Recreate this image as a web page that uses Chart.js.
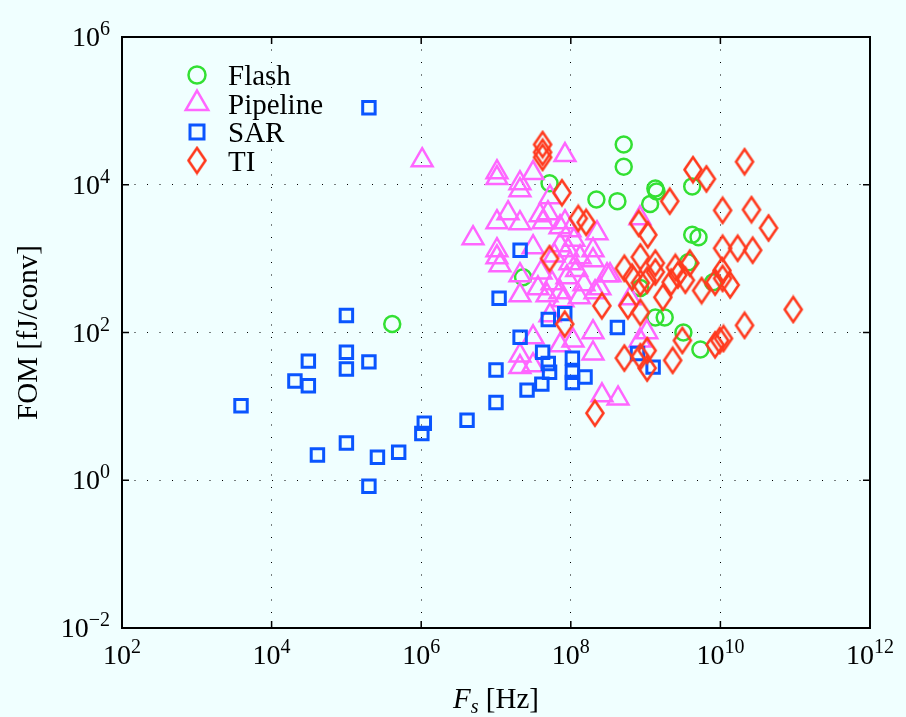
<!DOCTYPE html>
<html lang="en">
<head>
<meta charset="UTF-8" />
<title>ADC FOM vs sampling rate</title>
<script src="https://cdn.jsdelivr.net/npm/chart.js"></script>
<style>
  html, body { margin: 0; padding: 0; background: #f0ffff; }
  canvas { display: block; }
</style>
</head>
<body>
<canvas id="fomChart" width="906" height="717"></canvas>
<script>
// sampling rate Fs [Hz] and figure of merit [fJ/conv], per architecture
const flashFs = [4.1e5, 2.3e7, 5.2e7, 2.2e8, 4.2e8, 5.1e8, 5.1e8, 8.5e8, 1.15e9, 1.35e9,
  1.4e9, 1.35e9, 1.8e9, 3.2e9, 3.7e9, 4.2e9, 4.2e9, 5.1e9, 5.4e9, 8e9];
const flashFom = [130, 560, 1.05e4, 6.3e3, 6.0e3, 3.5e4, 1.75e4, 400, 5.5e3, 8.9e3,
  8.1e3, 160, 160, 100, 890, 9.5e3, 2.1e3, 1.95e3, 59, 480];

const pipelineFs = [1.03e7, 1.03e7, 2.09e7, 2.09e7, 3.13e7, 8.36e7, 5.27e7, 1.03e7, 1.45e7, 2.09e7,
  4.93e6, 3.87e7, 4.95e7, 4.25e7, 7.18e7, 9.75e7, 8.36e7, 2.24e8, 1.03e7, 3.13e7,
  7.18e7, 9.18e7, 1.98e8, 1.03e7, 1.13e7, 2.09e7, 3.64e7, 2.09e7, 4.81e7, 7.18e7,
  7.87e7, 9.75e7, 8.89e7, 5.61e7, 3.05e8, 2.11e8, 1.98e8, 1.98e8, 5.27e7, 3.13e7,
  2.09e7, 2.09e7, 7.18e7, 1.07e8, 3.13e7, 1.33e8, 1.98e8, 2.61e8, 4.28e8, 8.41e8,
  1.04e9, 8.41e8, 1.03e6, 3.34e8, 2.45e8, 6.18e8, 1.2e8, 1.5e8, 1.1e8, 6e7,
  1.3e8, 4e7];
const pipelineFom = [1.48e4, 1.23e4, 1.05e4, 8.45e3, 1.44e4, 2.52e4, 6.79e3, 3.11e3, 4.12e3, 3.02e3,
  1.89e3, 3.87e3, 4.12e3, 3.11e3, 2.66e3, 2.43e3, 3.11e3, 2.21e3, 1.30e3, 1.43e3,
  1.52e3, 1.30e3, 1.30e3, 1.04e3, 815, 596, 397, 319, 319, 351,
  273, 867, 560, 465, 596, 351, 101, 52, 171, 86,
  49, 34, 67, 78, 36, 1.04e3, 951, 14.1, 12.8, 78,
  101, 3.52e3, 2.15e4, 596, 397, 290, 700, 450, 1.8e3, 1.1e3,
  300, 650];

const sarFs = [2.0e5, 3.9e3, 1.0e5, 3.1e4, 2.05e4, 3.1e4, 1.0e5, 1.0e5, 2.0e5, 4.1e4,
  1.0e5, 2.6e5, 5.0e5, 1.1e6, 1.02e6, 2.0e5, 4.1e6, 1.0e7, 1.0e7, 2.6e7,
  4.1e7, 4.2e7, 5.0e7, 5.2e7, 2.1e7, 5.0e7, 8.3e7, 1.05e8, 1.05e8, 1.05e8,
  1.55e8, 4.2e8, 7.8e8, 1.26e9, 1.1e7, 2.1e7];
const sarFom = [1.1e5, 10.2, 170, 41, 22, 19, 54, 32, 40, 2.2,
  3.2, 2.05, 2.4, 5.9, 4.3, 0.83, 6.5, 11.3, 31, 16.6,
  20, 54, 38, 29, 86, 150, 180, 45, 29, 21,
  25, 117, 52, 34, 290, 1.3e3];

const tiFs = [4.2e7, 4.2e7, 4.2e7, 7.6e7, 1.26e8, 1.6e8, 5.2e7, 2.6e8, 8.3e7, 4.3e9,
  6.5e9, 2.1e10, 2.1e9, 1.07e10, 2.6e10, 4.4e10, 8.1e8, 1.07e9, 1.07e10, 1.7e10,
  2.7e10, 8.5e8, 1.35e9, 5.2e8, 6.6e8, 8.5e8, 1.05e9, 1.35e9, 2.5e9, 2.7e9,
  3.4e9, 3.9e9, 2.2e9, 1.7e9, 8.5e8, 5.8e8, 5.6e9, 1.05e10, 1.07e10, 1.35e10,
  8.5e9, 8.5e9, 9.8e9, 1.1e10, 2.1e10, 3.1e9, 2.3e9, 5.2e8, 1.05e9, 8.5e8,
  1.05e9, 9.4e10, 2.1e8];
const tiFom = [3.5e4, 2.75e4, 2.35e4, 7.8e3, 3.5e3, 3.1e3, 1.0e3, 230, 130, 1.6e4,
  1.2e4, 2.05e4, 6.0e3, 4.5e3, 4.6e3, 2.6e3, 3.0e3, 2.1e3, 1.38e3, 1.38e3,
  1.3e3, 1.05e3, 870, 740, 560, 470, 510, 660, 760, 600,
  510, 870, 480, 300, 187, 230, 370, 690, 540, 440,
  480, 68, 78, 83, 125, 78, 42, 45, 57, 47,
  33, 205, 8.1];

const seriesNames = ['Flash', 'Pipeline', 'SAR', 'TI'];
const xTicks = [1e2, 1e4, 1e6, 1e8, 1e10, 1e12];
const yTicks = [1e-2, 1e0, 1e2, 1e4, 1e6];

const SERIF = '"Liberation Serif", "DejaVu Serif", serif';
const colors = { Flash: '#33e033', Pipeline: '#ff66ff', SAR: '#0a55ff', TI: '#ff3a1e' };

// tall diamond marker for TI
function diamondCanvas(color) {
  const c = document.createElement('canvas');
  c.width = 22; c.height = 30;
  const g = c.getContext('2d');
  g.strokeStyle = color; g.lineWidth = 2.6; g.lineJoin = 'miter';
  g.beginPath();
  g.moveTo(11, 2.5); g.lineTo(19.5, 15); g.lineTo(11, 27.5); g.lineTo(2.5, 15); g.closePath();
  g.stroke();
  return c;
}
const tiMarker = diamondCanvas(colors.TI);

const toPts = (xs, ys) => xs.map((v, i) => ({ x: v, y: ys[i] }));

const markerOpts = {
  Flash: { pointStyle: 'circle', pointRadius: 8, pointBorderWidth: 2.5 },
  Pipeline: { pointStyle: 'triangle', pointRadius: 12, pointBorderWidth: 2.5 },
  SAR: { pointStyle: 'rect', pointRadius: 8.8, pointBorderWidth: 3 },
  TI: { pointStyle: tiMarker, pointRadius: 10, pointBorderWidth: 2.6 }
};

const seriesData = [toPts(flashFs, flashFom), toPts(pipelineFs, pipelineFom), toPts(sarFs, sarFom), toPts(tiFs, tiFom)];

const datasets = seriesNames.map((name, i) => Object.assign({
  label: name,
  data: seriesData[i],
  borderColor: colors[name],
  pointBorderColor: colors[name],
  backgroundColor: 'rgba(0,0,0,0)',
  pointBackgroundColor: 'rgba(0,0,0,0)',
  order: 4 - i
}, markerOpts[name]));

function drawPow(ctx, x, y, exp, align) {
  ctx.font = '28px ' + SERIF;
  const wb = ctx.measureText('10').width;
  ctx.font = '20px ' + SERIF;
  const we = ctx.measureText(exp).width;
  const start = align === 'center' ? x - (wb + we) / 2 : x - wb - we;
  ctx.textAlign = 'left';
  ctx.font = '28px ' + SERIF;
  ctx.fillText('10', start, y);
  ctx.font = '20px ' + SERIF;
  ctx.fillText(exp, start + wb, y - 11);
}

function expLabel(v) {
  const e = Math.round(Math.log10(v));
  return e < 0 ? '\u2212' + (-e) : String(e);
}

function legendMarker(ctx, name, x, y) {
  ctx.strokeStyle = colors[name];
  ctx.beginPath();
  if (name === 'Flash') {
    ctx.lineWidth = 2.5; ctx.arc(x, y, 8.5, 0, Math.PI * 2); ctx.stroke();
  } else if (name === 'Pipeline') {
    const r = 13;
    ctx.lineWidth = 2.5;
    ctx.moveTo(x, y - r);
    ctx.lineTo(x + r * Math.sin(2 * Math.PI / 3), y - r * Math.cos(2 * Math.PI / 3));
    ctx.lineTo(x + r * Math.sin(4 * Math.PI / 3), y - r * Math.cos(4 * Math.PI / 3));
    ctx.closePath(); ctx.stroke();
  } else if (name === 'SAR') {
    ctx.lineWidth = 3; ctx.rect(x - 7, y - 7, 14, 14); ctx.stroke();
  } else {
    ctx.drawImage(tiMarker, x - tiMarker.width / 2, y - tiMarker.height / 2);
  }
}

const frameAndText = {
  id: 'frameAndText',
  afterDraw(chart) {
    const { ctx, chartArea: a } = chart;
    const xs = chart.scales.x, ys = chart.scales.y;
    ctx.save();
    ctx.fillStyle = '#000';
    ctx.strokeStyle = '#000';

    // frame and inward ticks
    ctx.lineWidth = 2;
    ctx.strokeRect(a.left, a.top, a.right - a.left, a.bottom - a.top);
    ctx.lineWidth = 1.5;
    ctx.beginPath();
    xTicks.forEach(v => {
      const px = xs.getPixelForValue(v);
      ctx.moveTo(px, a.bottom); ctx.lineTo(px, a.bottom - 7);
      ctx.moveTo(px, a.top); ctx.lineTo(px, a.top + 7);
    });
    yTicks.forEach(v => {
      const py = ys.getPixelForValue(v);
      ctx.moveTo(a.left, py); ctx.lineTo(a.left + 7, py);
      ctx.moveTo(a.right, py); ctx.lineTo(a.right - 7, py);
    });
    ctx.stroke();

    // tick labels
    ctx.textBaseline = 'alphabetic';
    xTicks.forEach(v => drawPow(ctx, xs.getPixelForValue(v), a.bottom + 36, expLabel(v), 'center'));
    yTicks.forEach(v => drawPow(ctx, a.left - 12, ys.getPixelForValue(v) + 9, expLabel(v), 'right'));

    // x title: F_s [Hz]
    ctx.font = 'italic 29px ' + SERIF;
    const wF = ctx.measureText('F').width;
    ctx.font = 'italic 20px ' + SERIF;
    const wS = ctx.measureText('s').width;
    ctx.font = '29px ' + SERIF;
    const wR = ctx.measureText(' [Hz]').width;
    const sx = (a.left + a.right) / 2 - (wF + wS + wR) / 2;
    const by = 708;
    ctx.textAlign = 'left';
    ctx.font = 'italic 29px ' + SERIF; ctx.fillText('F', sx, by);
    ctx.font = 'italic 20px ' + SERIF; ctx.fillText('s', sx + wF, by + 5);
    ctx.font = '29px ' + SERIF; ctx.fillText(' [Hz]', sx + wF + wS, by);

    // y title
    ctx.save();
    ctx.translate(37, (a.top + a.bottom) / 2);
    ctx.rotate(-Math.PI / 2);
    ctx.textAlign = 'center';
    ctx.font = '29px ' + SERIF;
    ctx.fillText('FOM [fJ/conv]', 0, 0);
    ctx.restore();

    // legend
    seriesNames.forEach((name, i) => {
      const ly = 75 + i * 28.5;
      legendMarker(ctx, name, 197, ly);
      ctx.fillStyle = '#000';
      ctx.font = '29px ' + SERIF;
      ctx.textAlign = 'left';
      ctx.fillText(name, 228, ly + 10);
    });
    ctx.restore();
  }
};

new Chart(document.getElementById('fomChart'), {
  type: 'scatter',
  data: { datasets: datasets },
  options: {
    responsive: false,
    animation: false,
    events: [],
    layout: { padding: { left: 122, top: 37, right: 36, bottom: 89 } },
    plugins: { legend: { display: false }, tooltip: { enabled: false } },
    scales: {
      x: {
        type: 'logarithmic', min: 1e2, max: 1e12,
        afterBuildTicks: s => { s.ticks = xTicks.map(v => ({ value: v })); },
        ticks: { display: false },
        grid: { color: '#000', lineWidth: 1, drawTicks: false },
        border: { display: false, dash: [1, 11.5] }
      },
      y: {
        type: 'logarithmic', min: 1e-2, max: 1e6,
        afterBuildTicks: s => { s.ticks = yTicks.map(v => ({ value: v })); },
        ticks: { display: false },
        grid: { color: '#000', lineWidth: 1, drawTicks: false },
        border: { display: false, dash: [1, 11.5] }
      }
    }
  },
  plugins: [frameAndText]
});
</script>
</body>
</html>
